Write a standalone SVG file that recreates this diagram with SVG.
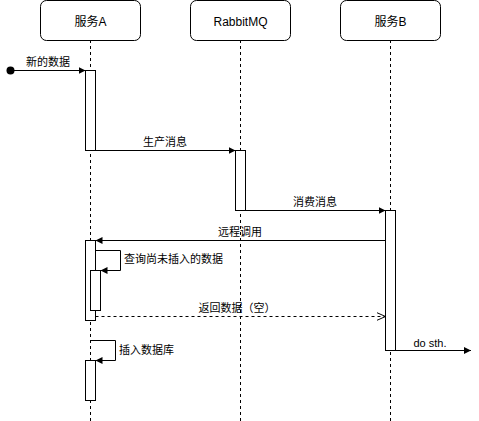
<svg xmlns="http://www.w3.org/2000/svg" width="479" height="421" viewBox="0 0 479 421">
<style>
.box{fill:#fff;stroke:#000;stroke-width:1}
.life{stroke:#000;stroke-width:1;stroke-dasharray:3,3;fill:none}
.act{fill:#fff;stroke:#000;stroke-width:1}
.msg{stroke:#000;stroke-width:1;fill:none}
.dash{stroke:#000;stroke-width:1;fill:none;stroke-dasharray:3,3}
.t{font-family:"Liberation Sans","Noto Sans CJK SC",sans-serif;font-size:11px;fill:#000}
.h{font-family:"Liberation Sans","Noto Sans CJK SC",sans-serif;font-size:12px;fill:#000;text-anchor:middle}
</style>
<defs>
<marker id="fa" markerWidth="8" markerHeight="8" refX="7" refY="4" orient="auto" markerUnits="userSpaceOnUse"><path d="M0,0.5 L7,4 L0,7.5 Z" fill="#000"/></marker>
<marker id="oa" markerWidth="10" markerHeight="10" refX="9" refY="5" orient="auto" markerUnits="userSpaceOnUse"><path d="M0,1 L9,5 L0,9" fill="none" stroke="#000"/></marker>
</defs>
<rect width="479" height="421" fill="#fff"/>
<g id="lifelines">
<line class="life" x1="90.5" y1="40" x2="90.5" y2="421"/>
<line class="life" x1="240.5" y1="40" x2="240.5" y2="421"/>
<line class="life" x1="390.5" y1="40" x2="390.5" y2="421"/>
</g>
<g id="serviceA"><rect class="box" x="40.5" y="0.5" width="100" height="40" rx="6"/><text class="h" x="90.5" y="26">服务A</text></g>
<g id="rabbitmq"><rect class="box" x="190.5" y="0.5" width="100" height="40" rx="6"/><text class="h" x="240.5" y="26">RabbitMQ</text></g>
<g id="serviceB"><rect class="box" x="340.5" y="0.5" width="100" height="40" rx="6"/><text class="h" x="390.5" y="26">服务B</text></g>
<g id="activations">
<rect class="act" x="85.5" y="70.5" width="10" height="80"/>
<rect class="act" x="235.5" y="150.5" width="10" height="60"/>
<rect class="act" x="385.5" y="210.5" width="10" height="140"/>
<rect class="act" x="85.5" y="240.5" width="10" height="80"/>
<rect class="act" x="90.5" y="270.5" width="10" height="40"/>
<rect class="act" x="85.5" y="360.5" width="10" height="40"/>
</g>
<g id="connectors">
<circle cx="10.5" cy="70.5" r="4" fill="#000"/>
<line class="msg" x1="10.5" y1="70.5" x2="85.5" y2="70.5" marker-end="url(#fa)"/>
<line class="msg" x1="95.5" y1="150.5" x2="235.5" y2="150.5" marker-end="url(#fa)"/>
<line class="msg" x1="245.5" y1="210.5" x2="385.5" y2="210.5" marker-end="url(#fa)"/>
<line class="msg" x1="385.5" y1="240.5" x2="95.5" y2="240.5" marker-end="url(#fa)"/>
<polyline class="msg" points="95.5,250.5 120.5,250.5 120.5,270.5 100.5,270.5" marker-end="url(#fa)"/>
<line class="dash" x1="95.5" y1="316.5" x2="385.5" y2="316.5" marker-end="url(#oa)"/>
<polyline class="msg" points="90.5,340.5 115.5,340.5 115.5,360.5 95.5,360.5" marker-end="url(#fa)"/>
<line class="msg" x1="395.5" y1="350.5" x2="471" y2="350.5" marker-end="url(#fa)"/>
</g>
<g id="labels">
<text class="t" x="48" y="66" text-anchor="middle">新的数据</text>
<text class="t" x="165" y="146" text-anchor="middle">生产消息</text>
<text class="t" x="315" y="206" text-anchor="middle">消费消息</text>
<text class="t" x="240" y="236" text-anchor="middle">远程调用</text>
<text class="t" x="124" y="263">查询尚未插入的数据</text>
<text class="t" x="237" y="312" text-anchor="middle">返回数据（空）</text>
<text class="t" x="119" y="354">插入数据库</text>
<text class="t" x="430" y="347" text-anchor="middle">do sth.</text>
</g>
</svg>
